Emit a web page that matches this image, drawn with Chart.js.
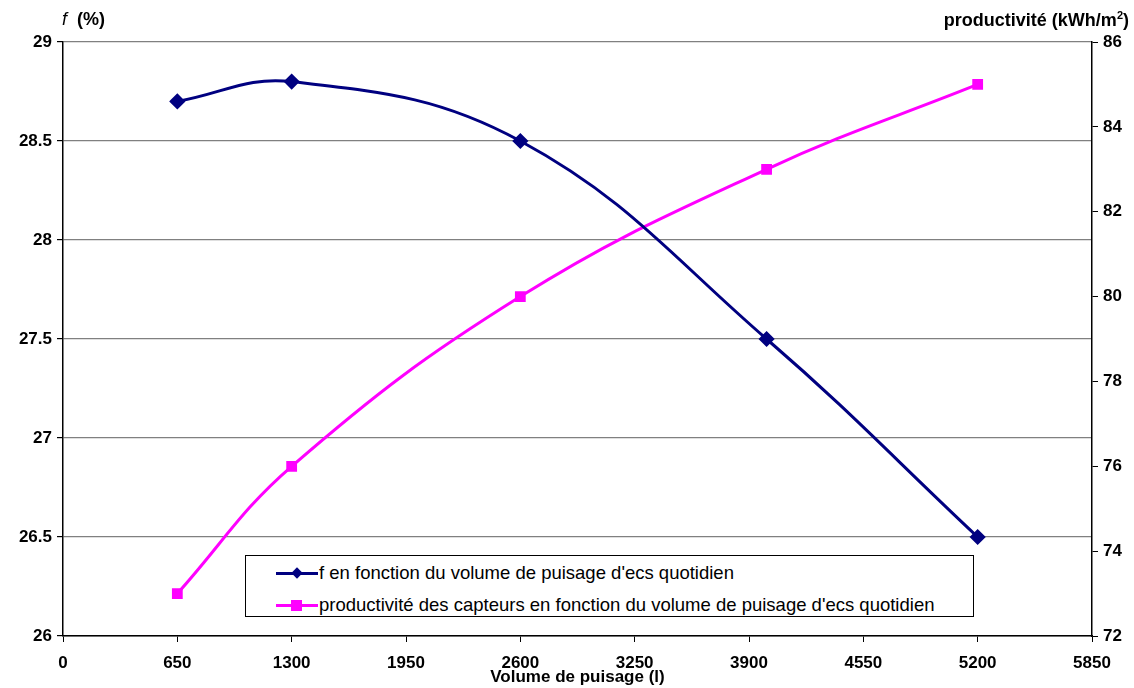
<!DOCTYPE html>
<html lang="fr">
<head>
  <meta charset="UTF-8" />
  <title>f et productivité en fonction du volume de puisage</title>
  <style>
    body { margin: 0; background: #fff; font-family: "Liberation Sans", Arial, sans-serif; }
    #wrap { position: relative; width: 1134px; height: 688px; }
    .ytitle { position: absolute; font-size: 18px; font-weight: bold; color: #000; white-space: nowrap; }
    #legend { position: absolute; left: 245px; top: 555px; width: 729px; height: 62px;
      border: 1px solid #000; background: #fff; box-sizing: border-box; font-size: 18.5px; }
    #legend .row { position: absolute; left: 30px; height: 22px; display: flex; align-items: center; }
    #legend .mk { position: relative; width: 42px; height: 20px; margin-right: 1px; }
    #legend .ln { position: absolute; left: 0; right: 0; top: 9px; height: 3px; }
    #legend .sym { position: absolute; }
  </style>
</head>
<body>
  <div id="wrap">
    <canvas id="myChart" width="1134" height="688"></canvas>
    <div class="ytitle" style="left:62px; top:9px;"><i style="font-weight:normal">f</i>&nbsp;&nbsp;(%)</div>
    <div class="ytitle" style="right:5px; top:9px;">productivité (kWh/m<sup style="font-size:11px">2</sup>)</div>
    <div id="legend"></div>
  </div>
  <script src="https://cdn.jsdelivr.net/npm/chart.js@4.4.0/dist/chart.umd.min.js"></script>
  <script>
    // données
    const volumes = [650, 1300, 2600, 4000, 5200];
    const fValues = [28.7, 28.8, 28.5, 27.5, 26.5];
    const prodValues = [73, 76, 80, 83, 85];
    const labelF = "f en fonction du volume de puisage d'ecs quotidien";
    const labelProd = "productivité des capteurs en fonction du volume de puisage d'ecs quotidien";

    const tickFont = { family: '"Liberation Sans", Arial, sans-serif', size: 17, weight: 'bold' };
    const plain = v => String(v);

    const ctx = document.getElementById('myChart').getContext('2d');

    const myChart = new Chart(ctx, {
      type: 'line',
      data: {
        datasets: [{
          label: labelF,
          data: volumes.map((v, i) => ({ x: v, y: fValues[i] })),
          borderColor: '#000080',
          backgroundColor: '#000080',
          borderWidth: 3,
          pointStyle: 'rectRot',
          pointRadius: 6,
          tension: 0.4,
          yAxisID: 'yF'
        }, {
          label: labelProd,
          data: volumes.map((v, i) => ({ x: v, y: prodValues[i] })),
          borderColor: '#FF00FF',
          backgroundColor: '#FF00FF',
          borderWidth: 3,
          pointStyle: 'rect',
          pointRadius: 5.5,
          tension: 0.4,
          yAxisID: 'yP'
        }]
      },
      options: {
        responsive: false,
        animation: false,
        events: [],
        layout: { padding: { top: 42, left: 0, right: 0, bottom: 0 } },
        plugins: { legend: { display: false }, tooltip: { enabled: false } },
        scales: {
          x: {
            type: 'linear', min: 0, max: 5850,
            ticks: { stepSize: 650, font: tickFont, color: '#000', padding: 11, callback: plain },
            grid: { drawOnChartArea: false, tickLength: 6, tickColor: '#000' },
            border: { color: '#000', width: 1.5 },
            title: { display: true, text: 'Volume de puisage (l)', font: tickFont, color: '#000', padding: { top: -6, bottom: 0 } },
            afterFit: s => { s.height = 52; }
          },
          yF: {
            position: 'left', min: 26, max: 29,
            ticks: { stepSize: 0.5, font: tickFont, color: '#000', padding: 5, callback: plain },
            grid: { color: '#808080', lineWidth: 1.2, tickLength: 6, tickColor: '#000' },
            border: { color: '#000', width: 1.5 },
            afterFit: s => { s.width = 63; }
          },
          yP: {
            position: 'right', min: 72, max: 86,
            ticks: { stepSize: 2, font: tickFont, color: '#000', padding: 5, callback: plain },
            grid: { drawOnChartArea: false, tickLength: 6, tickColor: '#000' },
            border: { color: '#000', width: 1.5 },
            afterFit: s => { s.width = 42; }
          }
        }
      }
    });

    // légende encadrée dans la zone du graphique
    const legend = document.getElementById('legend');
    myChart.data.datasets.forEach((ds, i) => {
      const row = document.createElement('div');
      row.className = 'row';
      row.style.top = (6 + i * 32) + 'px';
      const mk = document.createElement('div');
      mk.className = 'mk';
      const ln = document.createElement('div');
      ln.className = 'ln';
      ln.style.background = ds.borderColor;
      const sym = document.createElement('div');
      sym.className = 'sym';
      sym.style.background = ds.borderColor;
      if (ds.pointStyle === 'rectRot') {
        sym.style.cssText += 'width:8px;height:8px;left:17px;top:6px;transform:rotate(45deg);';
      } else {
        sym.style.cssText += 'width:11px;height:11px;left:15px;top:5px;';
      }
      mk.appendChild(ln);
      mk.appendChild(sym);
      const txt = document.createElement('span');
      txt.textContent = ds.label;
      row.appendChild(mk);
      row.appendChild(txt);
      legend.appendChild(row);
    });
  </script>
</body>
</html>
